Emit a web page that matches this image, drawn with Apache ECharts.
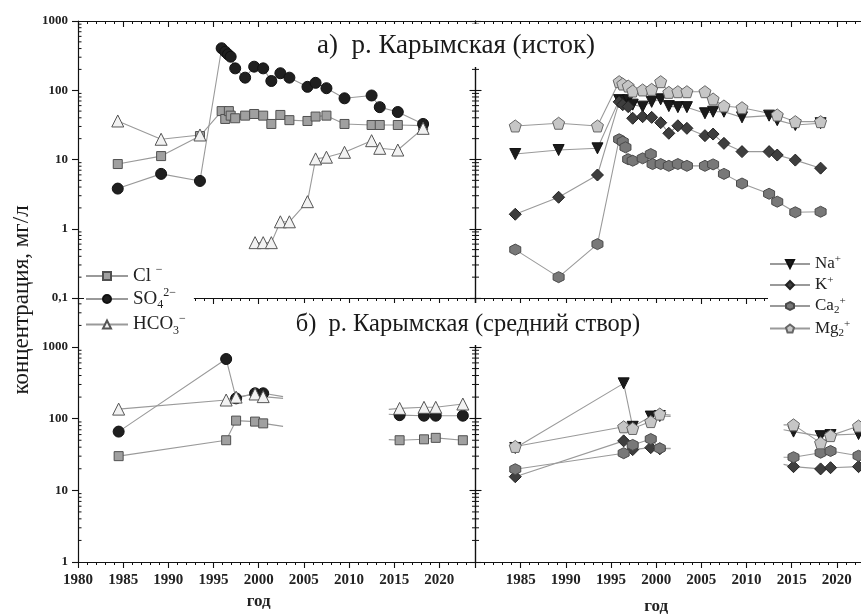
<!DOCTYPE html>
<html>
<head>
<meta charset="utf-8">
<script src="https://cdn.jsdelivr.net/npm/echarts@6/dist/echarts.min.js"></script>
<style>
  html, body { margin: 0; padding: 0; background: #fff; }
  #chart { width: 861px; height: 616px; }
</style>
</head>
<body>
<div id="chart"></div>
<script>
// ---- Data: [year, concentration mg/L]; null = gap in the line, 'end' = line continues without a marker
// а) р. Карымская (исток) — anions
const clSource = [[1984.4, 8.6], [1989.2, 11.2], [1993.5, 21.8], [1995.9, 50], [1996.3, 38.5], [1996.7, 50], [1996.9, 43],
  [1997.4, 39.4], [1998.5, 43], [1999.5, 45.4], [2000.5, 43], [2001.4, 32.6], [2002.4, 44], [2003.4, 37], [2005.4, 36],
  [2006.3, 41.7], [2007.5, 43], [2009.5, 32.6], [2012.5, 31.5], [2013.4, 31.5], [2015.4, 31.5], [2018.2, 30.8]];
const so4Source = [[1984.4, 3.8], [1989.2, 6.2], [1993.5, 4.9], [1995.9, 404], [1996.3, 360], [1996.6, 330], [1996.9, 305],
  [1997.4, 207], [1998.5, 152], [1999.5, 219], [2000.5, 207], [2001.4, 136], [2002.4, 176], [2003.4, 152], [2005.4, 112],
  [2006.3, 128], [2007.5, 107], [2009.5, 76.5], [2012.5, 84], [2013.4, 57], [2015.4, 48.5], [2018.2, 32.6]];
const hco3Source = [[1984.4, 36], [1989.2, 19.6], [1993.5, 22.6], null, [1999.6, 0.63], [2000.5, 0.63], [2001.4, 0.63],
  [2002.4, 1.26], [2003.4, 1.26], [2005.4, 2.46], [2006.3, 10.2], [2007.5, 10.8], [2009.5, 12.7], [2012.5, 18.7],
  [2013.4, 14.5], [2015.4, 13.7], [2018.2, 28.2]];

// а) р. Карымская (исток) — cations
const naSource = [[1984.4, 12], [1989.2, 13.7], [1993.5, 14.5], [1995.9, 72], [1996.3, 68], [1996.6, 70], [1996.9, 72],
  [1997.4, 62], [1998.5, 58], [1999.5, 68], [2000.5, 74], [2001.4, 59], [2002.4, 57], [2003.4, 57], [2005.4, 46.5],
  [2006.3, 49], [2007.5, 49], [2009.5, 40.6], [2012.5, 43], [2013.4, 37], [2015.4, 31.5], [2018.2, 33.4]];
const kSource = [[1984.4, 1.62], [1989.2, 2.85], [1993.5, 5.97], [1995.9, 68], [1996.3, 62], [1996.9, 58], [1997.4, 39.4],
  [1998.5, 41.5], [1999.5, 40.6], [2000.5, 34], [2001.4, 23.9], [2002.4, 30.7], [2003.4, 28.2], [2005.4, 22.1],
  [2006.3, 23.3], [2007.5, 17.1], [2009.5, 13], [2012.5, 13], [2013.4, 11.6], [2015.4, 9.8], [2018.2, 7.5]];
const caSource = [[1984.4, 0.5], [1989.2, 0.2], [1993.5, 0.6], [1995.9, 19.6], [1996.3, 18.1], [1996.6, 15], [1996.9, 10.1],
  [1997.4, 9.6], [1998.5, 10.4], [1999.4, 12], [1999.6, 8.6], [2000.5, 8.6], [2001.4, 8.1], [2002.4, 8.6], [2003.4, 8.1],
  [2005.4, 8.1], [2006.3, 8.5], [2007.5, 6.2], [2009.5, 4.5], [2012.5, 3.2], [2013.4, 2.46], [2015.4, 1.73], [2018.2, 1.76]];
const mgSource = [[1984.4, 30.5], [1989.2, 33.4], [1993.5, 30.5], [1995.9, 133], [1996.3, 123], [1996.9, 115], [1997.4, 97.5],
  [1998.5, 101], [1999.5, 103], [2000.5, 133], [2001.4, 93.3], [2002.4, 95.3], [2003.4, 95.3], [2005.4, 95.3],
  [2006.3, 74.8], [2007.5, 59.3], [2009.5, 56], [2013.4, 44], [2015.4, 35.2], [2018.2, 35.2]];

// б) р. Карымская (средний створ) — anions
const clMiddle = [[1984.5, 30], [1996.4, 50], [1997.5, 94], [1999.6, 91], [2000.5, 86], [2002.7, 78, 'end'], null,
  [2014.4, 51, 'end'], [2015.6, 50], [2018.3, 51.5], [2019.6, 54], [2022.6, 50]];
const so4Middle = [[1984.5, 66], [1996.4, 680], [1997.5, 192], [1999.6, 226], [2000.5, 226], [2002.7, 203, 'end'], null,
  [2014.4, 115, 'end'], [2015.6, 112], [2018.3, 110], [2019.6, 110], [2022.6, 110]];
const hco3Middle = [[1984.5, 136], [1996.4, 182], [1997.5, 200], [1999.6, 221], [2000.5, 203], [2002.7, 192, 'end'], null,
  [2014.4, 135, 'end'], [2015.6, 139], [2018.3, 144], [2019.6, 144], [2022.6, 160]];

// б) р. Карымская (средний створ) — cations
const naMiddle = [[1984.4, 39], [1996.4, 311], [1997.4, 77], [1999.4, 107], [2000.4, 109], [2001.6, 107, 'end'], null,
  [2014.1, 70, 'end'], [2015.2, 66], [2018.2, 57], [2019.3, 59], [2022.4, 61]];
const kMiddle = [[1984.4, 15.5], [1996.4, 49], [1997.4, 37], [1999.4, 39.4], [2000.4, 38], [2001.6, 38, 'end'], null,
  [2014.1, 23, 'end'], [2015.2, 21.4], [2018.2, 19.9], [2019.3, 20.7], [2022.4, 21.4]];
const caMiddle = [[1984.4, 19.7], [1996.4, 33], [1997.4, 43], [1999.4, 52], [2000.4, 38.6], [2001.6, 38.6, 'end'], null,
  [2014.1, 29, 'end'], [2015.2, 29], [2018.2, 33.5], [2019.3, 35.4], [2022.4, 30.4]];
const mgMiddle = [[1984.4, 41], [1996.4, 77], [1997.4, 73], [1999.4, 91], [2000.4, 116], [2001.6, 112, 'end'], null,
  [2014.1, 82, 'end'], [2015.2, 82], [2018.2, 46], [2019.3, 58], [2022.4, 79]];

// ---- Text
const anionNames = ['Cl', 'SO4', 'HCO3'];
const cationNames = ['Na', 'K', 'Ca', 'Mg'];
const legendLabels = {
  Cl: '{b|Cl }{sup|−}',
  SO4: '{b|SO}{sub|4}{sup|2−}',
  HCO3: '{b|HCO}{sub|3}{sup|−}',
  Na: '{b|Na}{sup|+}',
  K: '{b|K}{sup|+}',
  Ca: '{b|Ca}{sub|2}{sup|+}',
  Mg: '{b|Mg}{sub|2}{sup|+}'
};
const titleSource = 'а)  р. Карымская (исток)';
const titleMiddle = 'б)  р. Карымская (средний створ)';
const yTitle = 'концентрация, мг/л';
const xTitle = 'год';

// ---- Layout / styling
const F = '"Liberation Serif", "Times New Roman", serif';
const X_MIN = 1980, X_MAX = 2024;
const TOP_Y = [0.1, 1000];
const BOTTOM_Y = [1, 4828];
const AX = '#111';
const LINE = '#9a9a9a';

const styles = {
  Cl:   { symbol: 'rect', size: 9, fill: '#a0a0a0', border: '#505050' },
  SO4:  { symbol: 'circle', size: 11, fill: '#1f1f1f', border: '#111' },
  HCO3: { symbol: 'triangle', size: 12, fill: '#f2f2f2', border: '#555' },
  Na:   { symbol: 'triangle', size: 11, fill: '#1b1b1b', border: '#111', rotate: 180 },
  K:    { symbol: 'diamond', size: 12, fill: '#3e3e3e', border: '#222' },
  Ca:   { symbol: 'path://M50,0 L93.3,25 L93.3,75 L50,100 L6.7,75 L6.7,25 Z', size: 11, fill: '#787878', border: '#4a4a4a' },
  Mg:   { symbol: 'path://M50,0 L97.6,34.5 L79.4,90.5 L20.6,90.5 L2.4,34.5 Z', size: 12, fill: '#c6c6c6', border: '#666' }
};

function toItems(points) {
  return points.map(p => {
    if (p === null) return ['-', '-'];
    if (p[2] === 'end') return { value: [p[0], p[1]], symbol: 'none' };
    return [p[0], p[1]];
  });
}

function lineSeries(name, points, gi, yi) {
  const s = styles[name];
  return {
    name, type: 'line', xAxisIndex: gi, yAxisIndex: yi,
    data: toItems(points),
    symbol: s.symbol, symbolSize: s.size, symbolRotate: s.rotate || 0,
    showAllSymbol: true, connectNulls: false, animation: false, z: 3,
    itemStyle: { color: s.fill, borderColor: s.border, borderWidth: 1 },
    lineStyle: { color: LINE, width: 1.1 },
    emphasis: { disabled: true }
  };
}

// minor log ticks (2..9 × 10^n) drawn on both vertical edges of a panel
function logMinorValues(lo, hi) {
  const out = [];
  for (let e = Math.floor(Math.log10(lo)); e < Math.ceil(Math.log10(hi)); e++) {
    for (let m = 2; m <= 9; m++) {
      const v = m * Math.pow(10, e);
      if (v > lo * 1.0001 && v < hi * 0.9999) out.push(v);
    }
  }
  return out;
}
function minorTickSeries(gi, yi, range) {
  return {
    type: 'custom', xAxisIndex: gi, yAxisIndex: yi, silent: true, animation: false, z: 4,
    data: logMinorValues(range[0], range[1]).map(v => [X_MIN, v]),
    encode: { x: 0, y: 1 },
    renderItem: (params, api) => {
      const v = api.value(1);
      const a = api.coord([X_MIN, v]);
      const b = api.coord([X_MAX, v]);
      const st = { stroke: AX, lineWidth: 1 };
      return {
        type: 'group', children: [
          { type: 'line', shape: { x1: a[0], y1: a[1], x2: a[0] + 3.5, y2: a[1] }, style: st },
          { type: 'line', shape: { x1: b[0], y1: b[1], x2: b[0] - 3.5, y2: b[1] }, style: st }
        ]
      };
    }
  };
}

function xAxisOpt(gi, extra) {
  return Object.assign({
    type: 'value', gridIndex: gi, min: X_MIN, max: X_MAX, interval: 5, position: 'bottom',
    axisLine: { show: true, onZero: false, lineStyle: { color: AX, width: 1.2 } },
    axisTick: { show: true, inside: false, length: 6, lineStyle: { color: AX, width: 1.1 } },
    minorTick: { show: true, splitNumber: 5, length: 3, lineStyle: { color: AX, width: 1 } },
    splitLine: { show: false }, minorSplitLine: { show: false },
    axisLabel: { show: false }
  }, extra || {});
}
const xLabel = {
  show: true, fontFamily: F, fontSize: 15, fontWeight: 'bold', color: '#222', margin: 11,
  showMaxLabel: false, formatter: v => String(v)
};

function yAxisOpt(gi, range, extra) {
  return Object.assign({
    type: 'log', logBase: 10, gridIndex: gi, min: range[0], max: range[1], position: 'left',
    axisLine: { show: true, onZero: false, lineStyle: { color: AX, width: 1.2 } },
    axisTick: { show: true, inside: true, length: 6, lineStyle: { color: AX, width: 1.1 } },
    splitLine: { show: false },
    axisLabel: { show: false }
  }, extra || {});
}
const yLabel = {
  show: true, fontFamily: F, fontSize: 13, fontWeight: 'bold', color: '#222', margin: 10,
  formatter: v => String(+(+v).toPrecision(3)).replace('.', ',')
};

const GL = 78, GW = 397.5, GM = GL + GW;
const option = {
  backgroundColor: '#fff',
  animation: false,
  grid: [
    { left: GL, top: 21, width: GW, height: 277, outerBoundsMode: 'none' },
    { left: GM, top: 21, width: GW, height: 277, outerBoundsMode: 'none' },
    { left: GL, top: 298, width: GW, height: 264, outerBoundsMode: 'none' },
    { left: GM, top: 298, width: GW, height: 264, outerBoundsMode: 'none' }
  ],
  xAxis: [
    xAxisOpt(0),
    xAxisOpt(1),
    xAxisOpt(2, { axisLabel: xLabel }),
    xAxisOpt(3, { axisLabel: Object.assign({}, xLabel, { showMinLabel: false }) }),
    xAxisOpt(0, { position: 'top', axisTick: { show: true, inside: true, length: 6, lineStyle: { color: AX, width: 1.1 } } }),
    xAxisOpt(1, { position: 'top', axisTick: { show: true, inside: true, length: 6, lineStyle: { color: AX, width: 1.1 } } })
  ],
  yAxis: [
    yAxisOpt(0, TOP_Y, { axisLabel: yLabel, axisTick: { show: true, inside: false, length: 6, lineStyle: { color: AX, width: 1.1 } } }),
    yAxisOpt(0, TOP_Y, { position: 'right' }),
    yAxisOpt(1, TOP_Y),
    yAxisOpt(2, BOTTOM_Y, { axisLabel: Object.assign({}, yLabel, { showMaxLabel: false }), axisTick: { show: true, inside: false, length: 6, lineStyle: { color: AX, width: 1.1 } } }),
    yAxisOpt(2, BOTTOM_Y, { position: 'right' }),
    yAxisOpt(3, BOTTOM_Y)
  ],
  legend: [
    {
      data: anionNames, orient: 'vertical', left: 84, top: 263,
      itemWidth: 42, itemHeight: 10, itemGap: 1.5, selectedMode: false,
      backgroundColor: '#fff', padding: [1, 8, 3, 1],
      formatter: n => legendLabels[n],
      textStyle: {
        fontFamily: F, fontSize: 19, color: '#222',
        rich: {
          b: { fontFamily: F, fontSize: 19, color: '#222', lineHeight: 24, verticalAlign: 'middle' },
          sub: { fontFamily: F, fontSize: 12, color: '#222', verticalAlign: 'bottom', lineHeight: 14 },
          sup: { fontFamily: F, fontSize: 12, color: '#222', verticalAlign: 'top', lineHeight: 14 }
        }
      }
    },
    {
      data: cationNames, orient: 'vertical', left: 768, top: 253,
      itemWidth: 40, itemHeight: 10, itemGap: 2.5, selectedMode: false,
      backgroundColor: '#fff', padding: [1, 20, 3, 1],
      formatter: n => legendLabels[n],
      textStyle: {
        fontFamily: F, fontSize: 17, color: '#222',
        rich: {
          b: { fontFamily: F, fontSize: 17, color: '#222', lineHeight: 20, verticalAlign: 'middle' },
          sub: { fontFamily: F, fontSize: 11, color: '#222', verticalAlign: 'bottom', lineHeight: 12 },
          sup: { fontFamily: F, fontSize: 11, color: '#222', verticalAlign: 'top', lineHeight: 12 }
        }
      }
    }
  ],
  series: [
    lineSeries('Cl', clSource, 0, 0),
    lineSeries('SO4', so4Source, 0, 0),
    lineSeries('HCO3', hco3Source, 0, 0),
    lineSeries('Na', naSource, 1, 2),
    lineSeries('K', kSource, 1, 2),
    lineSeries('Ca', caSource, 1, 2),
    lineSeries('Mg', mgSource, 1, 2),
    lineSeries('Cl', clMiddle, 2, 3),
    lineSeries('SO4', so4Middle, 2, 3),
    lineSeries('HCO3', hco3Middle, 2, 3),
    lineSeries('Na', naMiddle, 3, 5),
    lineSeries('K', kMiddle, 3, 5),
    lineSeries('Ca', caMiddle, 3, 5),
    lineSeries('Mg', mgMiddle, 3, 5),
    minorTickSeries(0, 0, TOP_Y),
    minorTickSeries(1, 2, TOP_Y),
    minorTickSeries(2, 3, BOTTOM_Y),
    minorTickSeries(3, 5, BOTTOM_Y)
  ]
};

const chart = echarts.init(document.getElementById('chart'), null, { renderer: 'canvas' });
chart.setOption(option);

// panel titles, axis titles
const px2000L = chart.convertToPixel({ xAxisIndex: 2 }, 2000);
const px2000R = chart.convertToPixel({ xAxisIndex: 3 }, 2000);
chart.setOption({
  graphic: [
    { type: 'rect', z: 100, shape: { x: 300, y: 24, width: 315, height: 43 }, style: { fill: '#fff' } },
    { type: 'text', z: 101, x: 456, y: 46, style: { text: titleSource, font: '27px ' + F, fill: '#1a1a1a', align: 'center', verticalAlign: 'middle' } },
    { type: 'rect', z: 100, shape: { x: 283, y: 303, width: 380, height: 42 }, style: { fill: '#fff' } },
    { type: 'text', z: 101, x: 468, y: 325, style: { text: titleMiddle, font: '24.5px ' + F, fill: '#1a1a1a', align: 'center', verticalAlign: 'middle' } },
    { type: 'text', z: 101, x: 22, y: 300, rotation: Math.PI / 2, style: { text: yTitle, font: '23px ' + F, fill: '#1a1a1a', align: 'center', verticalAlign: 'middle' } },
    { type: 'text', z: 101, x: px2000L, y: 602, style: { text: xTitle, font: 'bold 17px ' + F, fill: '#222', align: 'center', verticalAlign: 'middle' } },
    { type: 'text', z: 101, x: px2000R, y: 607, style: { text: xTitle, font: 'bold 17px ' + F, fill: '#222', align: 'center', verticalAlign: 'middle' } }
  ]
});
</script>
</body>
</html>
